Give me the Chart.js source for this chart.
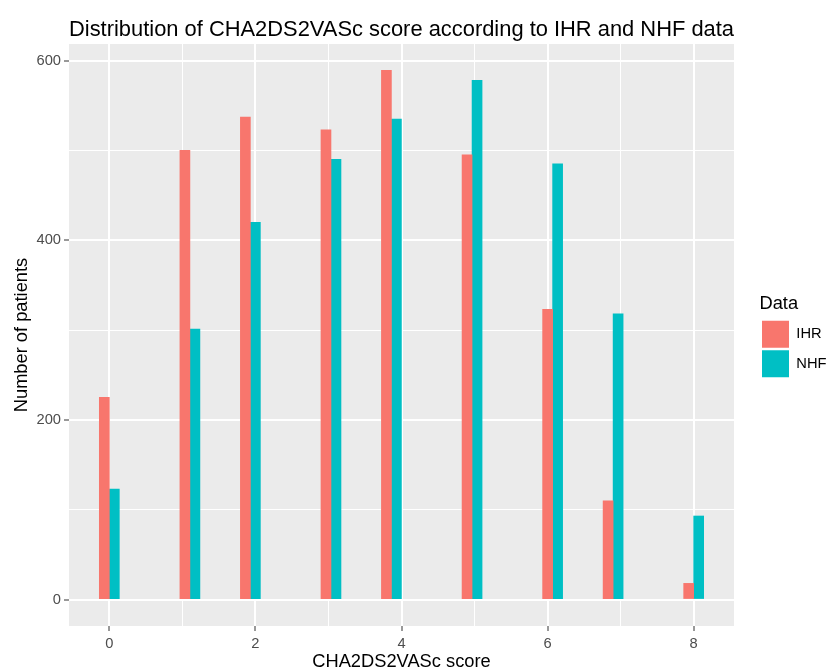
<!DOCTYPE html>
<html>
<head>
<meta charset="utf-8">
<script src="https://cdn.jsdelivr.net/npm/chart.js@4/dist/chart.umd.min.js"></script>
<style>
  html, body { margin: 0; padding: 0; background: #ffffff; }
  canvas { display: block; }
</style>
</head>
<body>
<canvas id="c" width="830" height="671"></canvas>
<script>
// ---- data ----
const scoreBinCenters = [0, 1.1034, 1.931, 3.0345, 3.862, 4.966, 6.069, 6.897, 8.0];
const ihrCounts = [225, 500, 537, 523, 589, 495, 323, 110, 18];
const nhfCounts = [123, 301, 420, 490, 535, 578, 485, 318, 93];
const seriesNames = ['IHR', 'NHF'];
const xMajorTicks = [0, 2, 4, 6, 8];
const xMinorTicks = [1, 3, 5, 7];
const yMajorTicks = [0, 200, 400, 600];
const yMinorTicks = [100, 300, 500];

const FONT = "'Liberation Sans', Arial, Helvetica, sans-serif";

function toPoints(values) {
  return values.map((v, i) => ({ x: scoreBinCenters[i], y: v }));
}

const panelBg = {
  id: 'panelBg',
  beforeDraw(chart) {
    const { ctx, chartArea: a } = chart;
    ctx.save();
    ctx.fillStyle = '#EBEBEB';
    ctx.fillRect(a.left, a.top, a.right - a.left, a.bottom - a.top);
    ctx.restore();
  }
};

function setTicks(major, minor) {
  return function (scale) {
    scale.ticks = major.concat(minor).sort((a, b) => a - b).map(v => ({ value: v }));
  };
}
function isMajor(list) {
  return ctx => ctx.tick && list.includes(ctx.tick.value);
}
const xIsMajor = isMajor(xMajorTicks);
const yIsMajor = isMajor(yMajorTicks);

new Chart(document.getElementById('c'), {
  type: 'bar',
  data: {
    datasets: [
      { label: seriesNames[0], data: toPoints(ihrCounts), backgroundColor: '#F8766D', borderWidth: 0 },
      { label: seriesNames[1], data: toPoints(nhfCounts), backgroundColor: '#00BFC4', borderWidth: 0 }
    ]
  },
  options: {
    responsive: false,
    animation: false,
    events: [],
    barThickness: 10,
    layout: { padding: 0 },
    plugins: {
      tooltip: { enabled: false },
      title: {
        display: true,
        fullSize: false,
        align: 'start',
        text: 'Distribution of CHA2DS2VASc score according to IHR and NHF data',
        color: '#000000',
        font: { family: FONT, size: 22, weight: 'normal', lineHeight: 1 },
        padding: { top: 19, bottom: 3 }
      },
      legend: {
        display: true,
        position: 'right',
        align: 'center',
        maxWidth: 70.5,
        title: {
          display: true,
          text: 'Data',
          position: 'start',
          color: '#000000',
          font: { family: FONT, size: 18.3, lineHeight: 1.2 },
          padding: { top: 3.5, bottom: 1.4 }
        },
        labels: {
          boxWidth: 27,
          boxHeight: 27,
          padding: 2.5,
          color: '#000000',
          font: { family: FONT, size: 14.7 }
        }
      }
    },
    scales: {
      x: {
        type: 'linear',
        position: 'bottom',
        min: -0.552,
        max: 8.552,
        offset: false,
        afterBuildTicks: setTicks(xMajorTicks, xMinorTicks),
        afterFit: s => { s.height = 45; },
        border: { display: false },
        grid: {
          offset: false,
          color: '#FFFFFF',
          lineWidth: ctx => xIsMajor(ctx) ? 2 : 1,
          drawTicks: true,
          tickLength: 5,
          tickWidth: 1,
          tickColor: ctx => xIsMajor(ctx) ? '#333333' : 'rgba(0,0,0,0)'
        },
        ticks: {
          autoSkip: false,
          maxRotation: 0,
          padding: 4,
          color: '#4D4D4D',
          font: { family: FONT, size: 14.7 },
          callback: v => xMajorTicks.includes(v) ? String(v) : ''
        },
        title: {
          display: true,
          text: 'CHA2DS2VASc score',
          color: '#000000',
          font: { family: FONT, size: 18.3, lineHeight: 1 },
          padding: { top: 0, bottom: 0 }
        }
      },
      y: {
        type: 'linear',
        position: 'left',
        min: -29.45,
        max: 618.45,
        afterBuildTicks: setTicks(yMajorTicks, yMinorTicks),
        afterFit: s => { s.width = 69; },
        border: { display: false },
        grid: {
          color: '#FFFFFF',
          lineWidth: ctx => yIsMajor(ctx) ? 2 : 1,
          drawTicks: true,
          tickLength: 5,
          tickWidth: 1,
          tickColor: ctx => yIsMajor(ctx) ? '#333333' : 'rgba(0,0,0,0)'
        },
        ticks: {
          autoSkip: false,
          padding: 3,
          color: '#4D4D4D',
          font: { family: FONT, size: 14.7 },
          callback: v => yMajorTicks.includes(v) ? String(v) : ''
        },
        title: {
          display: true,
          text: 'Number of patients',
          color: '#000000',
          font: { family: FONT, size: 18.3, lineHeight: 1.2 },
          padding: { top: 11, bottom: 0 }
        }
      },
      spacer: {
        type: 'linear',
        position: 'right',
        display: true,
        afterFit: s => { s.width = 25.5; },
        grid: { display: false, drawTicks: false },
        border: { display: false },
        ticks: { display: false }
      }
    }
  },
  plugins: [panelBg]
});
</script>
</body>
</html>
